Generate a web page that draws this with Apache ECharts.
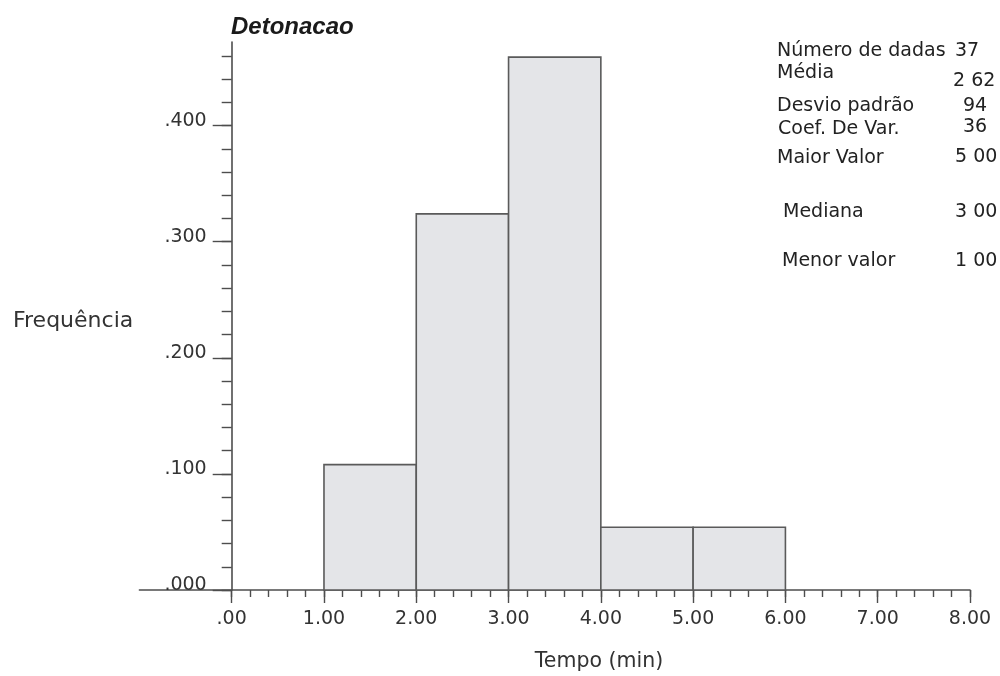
<!DOCTYPE html>
<html>
<head>
<meta charset="utf-8">
<title>Detonacao</title>
<script src="https://cdn.jsdelivr.net/npm/echarts@6/dist/echarts.min.js"></script>
<style>
  html, body { margin: 0; padding: 0; background: #ffffff; }
  #chart { width: 1000px; height: 676px; }
</style>
</head>
<body>
<div id="chart"></div>
<script>
// Histogram bins (minutes) and relative frequency of each bin
const binStart = [1, 2, 3, 4, 5];
const binEnd = [2, 3, 4, 5, 6];
const frequency = [0.108, 0.324, 0.459, 0.054, 0.054];

// Axis ticks and their labels
const xTickValues = [0, 1, 2, 3, 4, 5, 6, 7, 8];
const xTickLabels = ['.00', '1.00', '2.00', '3.00', '4.00', '5.00', '6.00', '7.00', '8.00'];
const yTickValues = [0, 0.1, 0.2, 0.3, 0.4];
const yTickLabels = ['.000', '.100', '.200', '.300', '.400'];

// Summary statistics printed beside the chart
const statLabels = ['Número de dadas', 'Média', 'Desvio padrão', 'Coef. De Var.', 'Maior Valor', 'Mediana', 'Menor valor'];
const statValues = ['37', '2 62', '94', '36', '5 00', '3 00', '1 00'];

// Where each statistic row sits: [label x, label y, value x, value y]
const statLayout = [
  [777, 51, 955, 51],
  [777, 73, 953, 81],
  [777, 106, 963, 106],
  [778, 129, 963, 127],
  [777, 158, 955, 157],
  [783, 212, 955, 212],
  [782, 261, 955, 261]
];

// Minor tick positions: every 0.2 min on x, every 0.02 on y
const xMinor = [];
for (let i = 0; i <= 40; i++) xMinor.push(+(i * 0.2).toFixed(2));
const yMinor = [];
for (let i = 0; i <= 23; i++) yMinor.push(+(i * 0.02).toFixed(2));

const axisColor = '#4d4d4d';
const labelFont = 'DejaVu Sans';
// The x range starts at -1, so the y axis is shifted right onto x = 0
const gridLeft = 139.4;
const xUnit = (970 - gridLeft) / 9;

const chart = echarts.init(document.getElementById('chart'), null, { renderer: 'canvas' });

const statGraphics = [];
statLabels.forEach((label, i) => {
  const pos = statLayout[i];
  statGraphics.push({
    type: 'text', x: pos[0], y: pos[1],
    style: { text: label, fill: '#222', font: '19px "DejaVu Sans"', verticalAlign: 'middle', align: 'left' }
  });
  statGraphics.push({
    type: 'text', x: pos[2], y: pos[3],
    style: { text: statValues[i], fill: '#222', font: '19px "DejaVu Sans"', verticalAlign: 'middle', align: 'left' }
  });
});

const option = {
  backgroundColor: '#ffffff',
  animation: false,
  title: {
    text: 'Detonacao',
    left: 231, top: 15, padding: 0,
    textStyle: {
      fontFamily: 'Liberation Sans', fontSize: 24, fontWeight: 'bold',
      fontStyle: 'italic', color: '#1a1a1a', lineHeight: 24
    }
  },
  grid: { left: gridLeft, right: 30, top: 42, bottom: 86, containLabel: false, outerBoundsMode: 'none' },
  xAxis: [
    {
      type: 'value', min: -1, max: 8, position: 'bottom',
      axisLine: { show: true, onZero: false, lineStyle: { color: axisColor, width: 1.6 } },
      axisTick: { show: true, length: 13, customValues: xTickValues, lineStyle: { color: axisColor, width: 1.4 } },
      axisLabel: {
        show: true, customValues: xTickValues, margin: 20,
        formatter: v => xTickLabels[Math.round(v)],
        fontFamily: labelFont, fontSize: 19, color: '#333', lineHeight: 19
      },
      splitLine: { show: false }
    },
    {
      type: 'value', min: -1, max: 8, position: 'bottom',
      axisLine: { show: false, onZero: false },
      axisTick: { show: true, length: 7, customValues: xMinor, lineStyle: { color: axisColor, width: 1.4 } },
      axisLabel: { show: false },
      splitLine: { show: false }
    }
  ],
  yAxis: [
    {
      type: 'value', min: 0, max: 0.472, position: 'left', offset: -xUnit,
      axisLine: { show: true, onZero: false, lineStyle: { color: axisColor, width: 1.6 } },
      axisTick: { show: true, length: 19, customValues: yTickValues, lineStyle: { color: axisColor, width: 1.4 } },
      axisLabel: {
        show: true, customValues: yTickValues, margin: 25,
        formatter: v => yTickLabels[Math.round(v * 10)],
        fontFamily: labelFont, fontSize: 19, color: '#333',
        verticalAlign: 'bottom', lineHeight: 10
      },
      splitLine: { show: false }
    },
    {
      type: 'value', min: 0, max: 0.472, position: 'left', offset: -xUnit,
      axisLine: { show: false, onZero: false },
      axisTick: { show: true, length: 10, customValues: yMinor, lineStyle: { color: axisColor, width: 1.4 } },
      axisLabel: { show: false },
      splitLine: { show: false }
    }
  ],
  graphic: [
    {
      type: 'text', x: 13, y: 321,
      style: { text: 'Frequência', fill: '#333', font: '22px "DejaVu Sans"', verticalAlign: 'middle', align: 'left' }
    },
    {
      type: 'text', x: 599, y: 662,
      style: { text: 'Tempo (min)', fill: '#333', font: '20.5px "DejaVu Sans"', verticalAlign: 'middle', align: 'center' }
    }
  ].concat(statGraphics),
  series: [
    {
      type: 'custom',
      xAxisIndex: 0, yAxisIndex: 0,
      encode: { x: [0, 1], y: 2 },
      data: binStart.map((s, i) => [s, binEnd[i], frequency[i]]),
      renderItem: function (params, api) {
        const base = api.coord([api.value(0), 0]);
        const top = api.coord([api.value(1), api.value(2)]);
        return {
          type: 'rect',
          shape: { x: base[0], y: top[1], width: top[0] - base[0], height: base[1] - top[1] },
          style: { fill: '#e4e5e8', stroke: '#5a5a5a', lineWidth: 1.6 }
        };
      }
    }
  ]
};

chart.setOption(option);
</script>
</body>
</html>
